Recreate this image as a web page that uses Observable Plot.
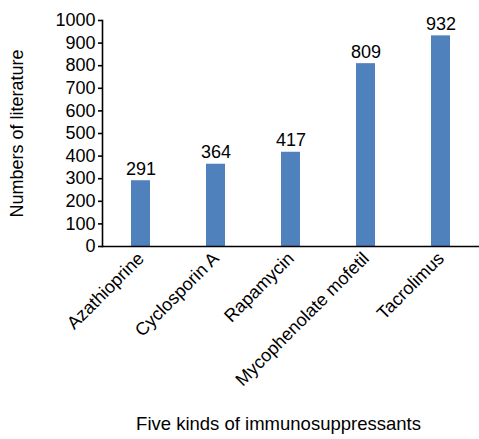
<!DOCTYPE html>
<html><head><meta charset="utf-8">
<script src="https://cdn.jsdelivr.net/npm/d3@7"></script>
<script src="https://cdn.jsdelivr.net/npm/@observablehq/plot@0.6"></script>
<style>
body{margin:0;background:#fff;}
svg{font-family:"Liberation Sans",Arial,sans-serif;}
</style>
</head><body>
<div id="chart"></div>
<script>
const drugs = ["Azathioprine","Cyclosporin A","Rapamycin","Mycophenolate mofetil","Tacrolimus"];
const counts = [291,364,417,809,932];
const yTicks = [0,100,200,300,400,500,600,700,800,900,1000];
const xTitle = "Five kinds of immunosuppressants";
const yTitle = "Numbers of literature";
const data = drugs.map((d,i)=>({drug:d,count:counts[i]}));

const chart = Plot.plot({
  width: 479,
  height: 439,
  marginTop: 20,
  marginLeft: 102,
  marginRight: 1,
  marginBottom: 193,
  style: {fontSize: "18px", fontFamily: "'Liberation Sans', Arial, sans-serif", color: "#000", background: "#fff"},
  x: {domain: drugs, paddingInner: 0.75, paddingOuter: 0.375},
  y: {domain: [0,1000]},
  marks: [
    Plot.barY(data, {x: "drug", y: "count", fill: "#4f81bd"}),
    Plot.text(data, {x: "drug", y: "count", text: d=>String(d.count), lineAnchor: "bottom", dy: -6, fontSize: 18, fill: "#000"}),
    Plot.axisY({ticks: yTicks, tickFormat: d => String(d), tickSize: 4, tickPadding: 3, strokeWidth: 1.6,
      label: yTitle, labelAnchor: "center", labelArrow: "none", labelOffset: 92, fontSize: 18}),
    Plot.axisX({tickRotate: -45, tickSize: 0, tickPadding: 9, label: null, fontSize: 18}),
    Plot.frame({anchor: "left", strokeWidth: 1.6}),
    Plot.frame({anchor: "bottom", strokeWidth: 1.6}),
    Plot.text([xTitle], {frameAnchor: "bottom", text: d => d, dx: -12, dy: 183, fontSize: 18.5, fill: "#000"})
  ]
});
document.getElementById("chart").appendChild(chart);
</script>
</body></html>
